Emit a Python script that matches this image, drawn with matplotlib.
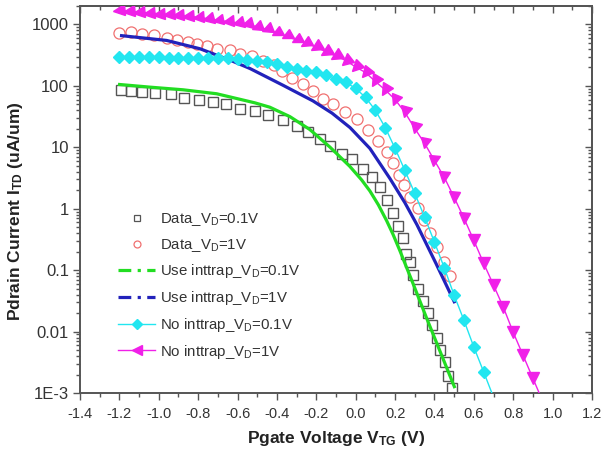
import numpy as np
import matplotlib
matplotlib.use('Agg')
import matplotlib.pyplot as plt
from matplotlib.lines import Line2D
from matplotlib.markers import MarkerStyle
from matplotlib.transforms import Affine2D
from matplotlib.ticker import FixedLocator, MultipleLocator, LogLocator, NullFormatter, FuncFormatter

plt.rcParams['font.family'] = ['Liberation Sans', 'DejaVu Sans']
plt.rcParams['mathtext.fontset'] = 'custom'
plt.rcParams['mathtext.rm'] = 'Liberation Sans'
plt.rcParams['mathtext.it'] = 'Liberation Sans:italic'
plt.rcParams['mathtext.bf'] = 'Liberation Sans:bold'

# ---------------- data ----------------
# Data_VD=0.1V (open squares)
sq_v = [-1.193, -1.141, -1.084, -1.019, -0.938, -0.872, -0.794, -0.726, -0.660, -0.588,
        -0.512, -0.444, -0.368, -0.300, -0.241, -0.182, -0.131, -0.072, -0.021, 0.038,
        0.081, 0.123, 0.157, 0.189, 0.216, 0.240, 0.258, 0.275, 0.292, 0.317,
        0.341, 0.366, 0.387, 0.412, 0.427, 0.453, 0.470, 0.487]
sq_i = [86.5, 82, 79, 77, 73, 64, 60, 55, 51, 42.5,
        38.8, 33, 27.4, 21.9, 17.7, 13.8, 10.7, 7.9, 6.5, 4.5,
        3.3, 2.25, 1.37, 0.84, 0.52, 0.33, 0.186, 0.134, 0.082, 0.050,
        0.032, 0.0198, 0.0126, 0.0078, 0.0051, 0.0032, 0.0019, 0.0012]

# Data_VD=1V (open circles)
ci_v = [-1.202, -1.141, -1.083, -1.024, -0.960, -0.905, -0.854, -0.808, -0.757, -0.702,
        -0.639, -0.588, -0.529, -0.470, -0.415, -0.375, -0.325, -0.267, -0.216, -0.165,
        -0.114, -0.055, 0.006, 0.062, 0.113, 0.157, 0.190, 0.219, 0.245, 0.275,
        0.316, 0.346, 0.377, 0.412, 0.448, 0.478]
ci_i = [735, 745, 706, 662, 608, 550, 516, 485, 447, 402,
        378, 334, 307, 259, 215, 172, 135, 108, 84, 62,
        50, 37, 28.5, 18.8, 12.9, 8.3, 5.5, 3.6, 2.4, 1.53,
        1.01, 0.65, 0.40, 0.235, 0.135, 0.079]

# Use inttrap_VD=0.1V (green line)
gr_v = [-1.207, -1.045, -0.877, -0.706, -0.512, -0.436, -0.334, -0.233, -0.131, -0.030,
        0.030, 0.072, 0.115, 0.157, 0.190, 0.224, 0.292, 0.360, 0.504]
gr_i = [106, 95.5, 86.5, 74.5, 53, 45, 31.6, 19.5, 10.1, 4.9,
        2.95, 1.95, 1.16, 0.64, 0.38, 0.209, 0.0596, 0.0166, 0.0012]

# Use inttrap_VD=1V (blue line)
bl_v = [-1.197, -0.960, -0.791, -0.622, -0.537, -0.368, -0.217, -0.120, -0.029, 0.072,
        0.174, 0.250, 0.311, 0.407, 0.504]
bl_i = [662, 550, 403, 250, 192, 102, 57, 36, 21, 9.6,
        3.1, 1.25, 0.55, 0.13, 0.029]

# No inttrap_VD=0.1V (cyan diamonds), 0.05 V steps from -1.2 V
cy_v = list(np.round(np.arange(-1.2, 0.7001, 0.05), 2))
cy_i = [296, 296, 295, 294, 292, 290, 289, 288, 286, 284,
        281, 280, 275, 264, 255, 241, 224, 202, 190, 178,
        167, 151, 132, 114, 91, 65, 40, 21, 9.6, 4.2,
        1.78, 0.73, 0.286, 0.109, 0.039, 0.0152, 0.0056, 0.0022, 0.00085]

# No inttrap_VD=1V (magenta triangles), 0.05 V steps from -1.2 V
mg_v = list(np.round(np.arange(-1.2, 0.9501, 0.05), 2))
mg_i = [1690, 1644, 1584, 1550, 1493, 1455, 1401, 1350, 1315, 1239,
        1162, 1120, 1065, 1000, 921, 829, 728, 638, 560, 491,
        427, 357, 307, 259, 203, 165, 118, 86, 60, 37,
        20.3, 11.6, 6.1, 3.24, 1.53, 0.70, 0.305, 0.129, 0.057, 0.0248,
        0.0097, 0.0041, 0.00173, 0.00073]

labels = ['Data_V$_\\mathregular{D}$=0.1V', 'Data_V$_\\mathregular{D}$=1V',
          'Use inttrap_V$_\\mathregular{D}$=0.1V', 'Use inttrap_V$_\\mathregular{D}$=1V',
          'No inttrap_V$_\\mathregular{D}$=0.1V', 'No inttrap_V$_\\mathregular{D}$=1V']

x_ticks = [-1.4, -1.2, -1.0, -0.8, -0.6, -0.4, -0.2, 0.0, 0.2, 0.4, 0.6, 0.8, 1.0, 1.2]
y_ticks = [1e-3, 1e-2, 1e-1, 1, 10, 100, 1000]
y_ticklabels = ['1E-3', '0.01', '0.1', '1', '10', '100', '1000']

# ---------------- colours ----------------
c_sq = '#555555'
c_ci = '#f07070'
c_gr = '#22dd22'
c_bl = '#2222bb'
c_cy = '#22e6f0'
c_mg = '#f020e8'
axc = '#555555'
txc = '#333333'

fig = plt.figure(figsize=(6.02, 4.5), dpi=100)
ax = fig.add_axes([80/602, 1-393/450, 512/602, 387/450])
ax.set_yscale('log')
ax.set_xlim(-1.4, 1.2)
ax.set_ylim(1e-3, 2000)

ax.plot(sq_v, sq_i, ls='none', marker='s', ms=7, mfc='none', mec=c_sq, mew=1.0, zorder=3)
ax.plot(ci_v, ci_i, ls='none', marker='o', ms=8, mfc='none', mec=c_ci, mew=0.9, zorder=3)
ax.plot(gr_v, gr_i, color=c_gr, lw=2.3, zorder=4, solid_capstyle='butt')
ax.plot(bl_v, bl_i, color=c_bl, lw=2.3, zorder=4, solid_capstyle='butt')
ax.plot(cy_v, cy_i, color=c_cy, lw=1.0, marker='D', ms=6.5, mfc=c_cy, mec=c_cy,
        markevery=list(range(38)), zorder=5)
ax.plot(mg_v, mg_i, color=c_mg, lw=1.0, zorder=6)

# triangles turn from pointing left (flat part) to pointing down (steep part)
pts = ax.transData.transform(np.column_stack([mg_v, mg_i]))
n_mk = 43
for k in range(n_mk):
    a, b = max(k - 1, 0), min(k + 1, len(mg_v) - 1)
    dx, dy = pts[b] - pts[a]
    alpha = np.degrees(np.arctan2(-dy, dx))  # descent angle in display space
    ang = 90 + min(90.0, max(0.0, alpha) * 90.0 / 66.0)
    mk = MarkerStyle('^', transform=Affine2D().rotate_deg(ang))
    ax.plot([mg_v[k]], [mg_i[k]], ls='none', marker=mk, ms=8, mfc=c_mg, mec=c_mg, zorder=7)

ax.xaxis.set_major_locator(FixedLocator(x_ticks))
ax.xaxis.set_minor_locator(MultipleLocator(0.1))
ax.xaxis.set_major_formatter(FuncFormatter(lambda v, p: ('%.1f' % v).replace('\u2212', '-')))
ax.yaxis.set_major_locator(FixedLocator(y_ticks))
ax.yaxis.set_minor_locator(LogLocator(base=10, subs=np.arange(2, 10)))
ax.yaxis.set_minor_formatter(NullFormatter())
ax.set_yticks(y_ticks)
ax.set_yticklabels(y_ticklabels)

ax.tick_params(which='both', direction='out', colors=axc, labelcolor=txc,
               top=False, right=False, width=1.0)
ax.tick_params(axis='x', labelsize=10.5, pad=5)
ax.tick_params(axis='y', labelsize=12, pad=3)
ax.tick_params(which='major', length=5)
ax.tick_params(which='minor', length=3)

for s in ax.spines.values():
    s.set_color(axc)
    s.set_linewidth(1.4)

secx = ax.secondary_xaxis('top')
secx.xaxis.set_major_locator(FixedLocator(x_ticks))
secx.xaxis.set_minor_locator(MultipleLocator(0.1))
secx.tick_params(which='both', direction='in', colors=axc, labeltop=False, width=1.0)
secx.tick_params(which='major', length=5)
secx.tick_params(which='minor', length=3)
secx.spines['top'].set_color(axc)
secx.spines['top'].set_linewidth(1.4)

secy = ax.secondary_yaxis('right')
secy.yaxis.set_major_locator(FixedLocator(y_ticks))
secy.yaxis.set_minor_locator(LogLocator(base=10, subs=np.arange(2, 10)))
secy.tick_params(which='both', direction='in', colors=axc, labelright=False, width=1.0)
secy.tick_params(which='major', length=5)
secy.tick_params(which='minor', length=3)
secy.spines['right'].set_color(axc)
secy.spines['right'].set_linewidth(1.4)

ax.set_xlabel('Pgate Voltage V$_{\\mathbf{TG}}$ (V)', fontsize=12.5, fontweight='bold',
              color='#222222', labelpad=6)
ax.set_ylabel('Pdrain Current I$_{\\mathbf{TD}}$ (uA/um)', fontsize=12.5, fontweight='bold',
              color='#222222')
ax.yaxis.set_label_coords(-0.108, 0.47)

handles = [
    Line2D([], [], ls='none', marker='s', ms=5, mfc='none', mec=c_sq, mew=0.9),
    Line2D([], [], ls='none', marker='o', ms=5, mfc='none', mec=c_ci, mew=0.9),
    Line2D([], [], color=c_gr, lw=2.3, dashes=(4, 2, 1, 2)),
    Line2D([], [], color=c_bl, lw=2.3, dashes=(4, 2, 1, 2)),
    Line2D([], [], color=c_cy, lw=1.0, marker='D', ms=5.5, mfc=c_cy, mec=c_cy),
    Line2D([], [], color=c_mg, lw=1.0, marker='<', ms=6.5, mfc=c_mg, mec=c_mg),
]
leg = ax.legend(handles, labels, loc='upper left', bbox_to_anchor=(0.074, 0.47),
                frameon=False, fontsize=10.8, handlelength=2.5, handletextpad=0.3,
                labelspacing=0.58, borderpad=0, borderaxespad=0)
for t in leg.get_texts():
    t.set_color(txc)

fig.savefig('out.png', dpi=100)
